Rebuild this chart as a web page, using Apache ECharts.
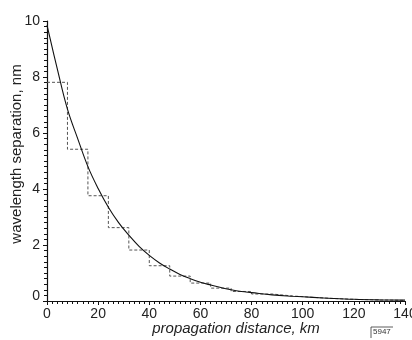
<!DOCTYPE html>
<html>
<head>
<meta charset="utf-8">
<script src="https://cdn.jsdelivr.net/npm/echarts@6/dist/echarts.min.js"></script>
<style>
html,body{margin:0;padding:0;background:#fff;}
#c{width:412px;height:340px;}
</style>
</head>
<body>
<div id="c"></div>
<script>
// Smooth curve: distance (km) and wavelength separation (nm)
var curveX = [0, 4, 8, 12, 16, 20, 24, 28, 32, 36, 40, 44, 48, 52, 56, 60, 64, 68, 72, 76, 80, 88, 96, 104, 112, 120, 130, 140];
var curveY = [9.85, 8.3, 6.85, 5.8, 4.8, 4.02, 3.35, 2.8, 2.35, 1.95, 1.63, 1.36, 1.14, 0.95, 0.8, 0.67, 0.57, 0.48, 0.4, 0.34, 0.3, 0.22, 0.17, 0.13, 0.09, 0.06, 0.04, 0.03];
// Staircase (dashed): step start distance and level
var stepX = [0, 8, 16, 24, 32, 40, 48, 56, 64, 72, 80, 88, 96, 104, 112, 120, 128, 136, 140];
var stepY = [7.81, 5.42, 3.76, 2.62, 1.82, 1.26, 0.89, 0.64, 0.46, 0.34, 0.25, 0.18, 0.13, 0.09, 0.06, 0.04, 0.03, 0.02, 0.02];
var xTicks = [0, 20, 40, 60, 80, 100, 120, 140];
var yTicks = [0, 2, 4, 6, 8, 10];
var xTitle = 'propagation distance, km';
var yTitle = 'wavelength separation, nm';
var figId = '5947';

var FONT = 'Liberation Sans';
var chart = echarts.init(document.getElementById('c'), null, {renderer: 'canvas'});
function zip(a, b) { return a.map(function (v, i) { return [v, b[i]]; }); }
chart.setOption({
  animation: false,
  backgroundColor: '#ffffff',
  grid: {left: 47, top: 21, right: 7, bottom: 39, containLabel: false, outerBoundsMode: 'none'},
  xAxis: {
    type: 'value', min: xTicks[0], max: xTicks[xTicks.length - 1], interval: 20,
    axisLine: {show: true, lineStyle: {color: '#111', width: 1.2}},
    axisTick: {show: true, inside: false, length: 4, lineStyle: {color: '#111'}},
    minorTick: {show: true, splitNumber: 10, length: 3, lineStyle: {color: '#111'}},
    splitLine: {show: false},
    axisLabel: {fontFamily: FONT, fontSize: 14, color: '#222', margin: 6, hideOverlap: false}
  },
  yAxis: {
    type: 'value', min: yTicks[0], max: yTicks[yTicks.length - 1], interval: 2,
    axisLine: {show: true, lineStyle: {color: '#111', width: 1.2}},
    axisTick: {show: true, inside: false, length: 4, lineStyle: {color: '#111'}},
    minorTick: {show: true, splitNumber: 10, length: 3, lineStyle: {color: '#111'}},
    splitLine: {show: false},
    axisLabel: {
      fontFamily: FONT, fontSize: 14, color: '#222', margin: 7,
      formatter: function (v) { return v === 0 ? '{z|0}' : String(v); },
      rich: {z: {fontFamily: FONT, fontSize: 14, color: '#222', padding: [0, 0, 10, 0]}}
    }
  },
  series: [
    {
      type: 'line', data: zip(stepX, stepY), step: 'end', showSymbol: false,
      lineStyle: {color: '#555', width: 1, type: [3, 2]}, z: 2
    },
    {
      type: 'line', data: zip(curveX, curveY), smooth: 0.4, showSymbol: false,
      lineStyle: {color: '#111', width: 1.1}, z: 3
    }
  ],
  graphic: [
    {type: 'text', x: 236, y: 329, style: {text: xTitle, fontFamily: FONT, fontSize: 15, fontStyle: 'italic', fill: '#222', align: 'center', verticalAlign: 'middle'}},
    {type: 'text', x: 17, y: 154, rotation: Math.PI / 2, style: {text: yTitle, fontFamily: FONT, fontSize: 15, fill: '#222', align: 'center', verticalAlign: 'middle'}},
    {type: 'text', x: 373, y: 328, style: {text: figId, fontFamily: FONT, fontSize: 8, fill: '#333'}},
    {type: 'polyline', shape: {points: [[371, 338], [371, 327], [393, 327]]}, style: {stroke: '#333', lineWidth: 0.8, fill: null}}
  ]
});
</script>
</body>
</html>
